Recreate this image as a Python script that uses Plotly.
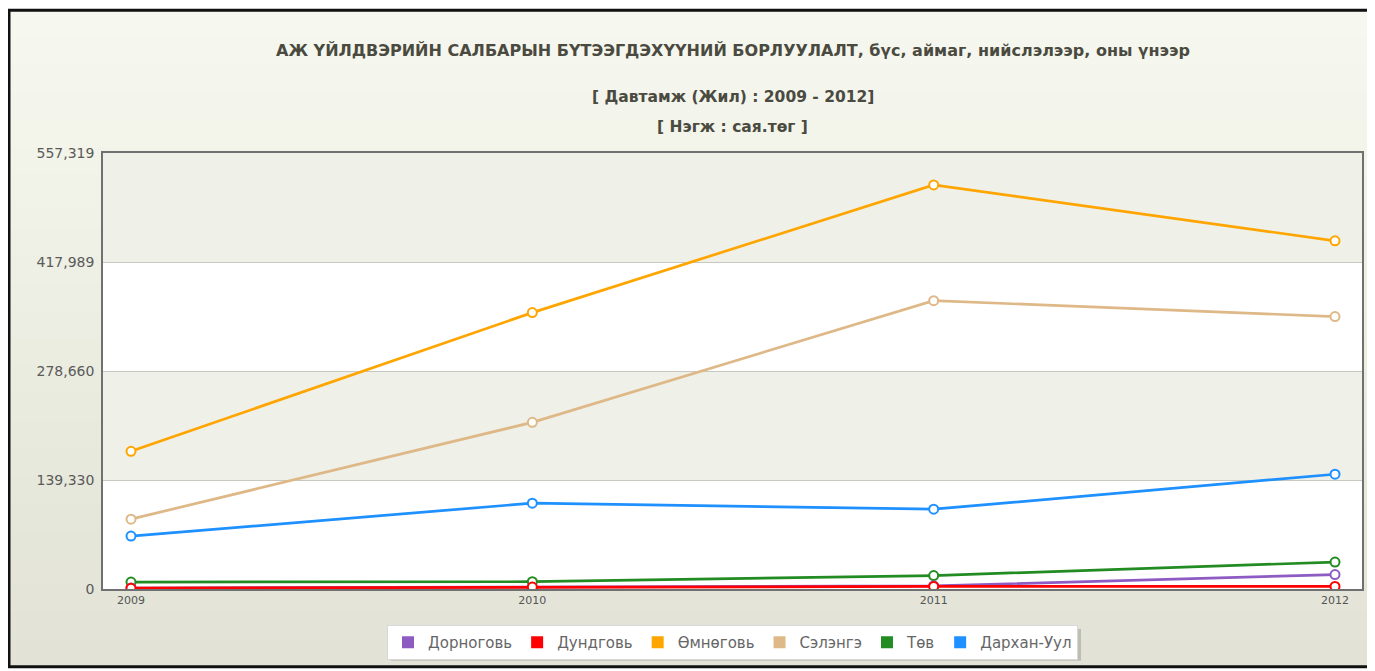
import plotly.graph_objects as go

years = [2009, 2010, 2011, 2012]
series_names = ["Дорноговь", "Дундговь", "Өмнөговь", "Сэлэнгэ", "Төв", "Дархан-Уул"]
dornogovi = [1200, 2200, 4000, 18500]
dundgovi = [1000, 2500, 3300, 3300]
omnogovi = [176000, 353300, 516500, 445100]
selenge = [89300, 213000, 368600, 348200]
tov = [8900, 9300, 17200, 34400]
darkhan_uul = [67600, 109700, 102000, 146700]
series_values = [dornogovi, dundgovi, omnogovi, selenge, tov, darkhan_uul]
colors = ["#8e5bc3", "#ff0000", "#ffa500", "#deb887", "#228b22", "#1e90ff"]
y_ticks = [0, 139330, 278660, 417989, 557319]
title = "АЖ ҮЙЛДВЭРИЙН САЛБАРЫН БҮТЭЭГДЭХҮҮНИЙ БОРЛУУЛАЛТ, бүс, аймаг, нийслэлээр, оны үнээр"
subtitle1 = "[ Давтамж (Жил) : 2009 - 2012]"
subtitle2 = "[ Нэгж : сая.төг ]"

# browser body margin of 8px shifts the figure; work in screen coordinates
OFF = 8
W, H = 1375 - OFF, 671 - OFF
L, T = 103 - OFF, 153 - OFF
R = W - (1362 - OFF)
B = H - (590 - OFF)
pw, ph = W - L - R, H - T - B

def px(sx):
    return (sx - OFF - L) / pw

def py(sy):
    return (H - B - (sy - OFF)) / ph

FONT = "DejaVu Sans, Verdana, sans-serif"

fig = go.Figure()

order = [2, 3, 5, 4, 0, 1]
for i in order:
    fig.add_trace(go.Scatter(
        x=years, y=series_values[i], name=series_names[i], mode="lines+markers",
        line=dict(color=colors[i], width=2.7),
        marker=dict(symbol="circle", size=9, color="white",
                    line=dict(color=colors[i], width=2)),
        showlegend=False, hoverinfo="x+y+name"))

for i in range(len(series_names)):
    fig.add_trace(go.Scatter(
        x=[None], y=[None], name=series_names[i], mode="markers",
        marker=dict(symbol="square", size=12, color=colors[i]),
        showlegend=True))

shapes = []
top_c = (0xf6, 0xf7, 0xee)
bot_c = (0xe2, 0xe3, 0xd6)
n = 24
y0p, y1p = 10, 668
for k in range(n):
    t = k / (n - 1)
    c = tuple(int(round(top_c[j] + (bot_c[j] - top_c[j]) * t)) for j in range(3))
    ya = y0p + (y1p - y0p) * k / n
    yb = y0p + (y1p - y0p) * (k + 1) / n
    shapes.append(dict(type="rect", xref="paper", yref="paper",
                       x0=px(8), x1=px(1390), y0=py(yb) - 0.002, y1=py(ya),
                       fillcolor="rgb(%d,%d,%d)" % c, line=dict(width=0), layer="below"))
shapes.append(dict(type="rect", xref="paper", yref="paper",
                   x0=px(9), x1=px(1390), y0=py(y1p), y1=py(y0p),
                   fillcolor="rgba(0,0,0,0)", line=dict(color="#111111", width=3), layer="below"))
band_cols = ["#ffffff", "#eff0e8", "#ffffff", "#eff0e8"]
for k in range(4):
    shapes.append(dict(type="rect", xref="x domain", yref="y",
                       x0=0, x1=1, y0=y_ticks[k], y1=y_ticks[k + 1],
                       fillcolor=band_cols[k], line=dict(width=0), layer="below"))
# legend drop shadow
shapes.append(dict(type="rect", xref="paper", yref="paper",
                   x0=px(391), x1=px(1081), y0=py(662), y1=py(630),
                   fillcolor="rgba(0,0,0,0.16)", line=dict(width=0), layer="above"))

annotations = [
    dict(text="<b>" + title + "</b>", x=0.5, y=py(50), xref="paper", yref="paper",
         yanchor="middle", showarrow=False,
         font=dict(size=16, color="#4a4a40", family=FONT)),
    dict(text="<b>" + subtitle1 + "</b>", x=0.5, y=py(97), xref="paper", yref="paper",
         yanchor="middle", showarrow=False,
         font=dict(size=15.5, color="#4a4a40", family=FONT)),
    dict(text="<b>" + subtitle2 + "</b>", x=0.5, y=py(127), xref="paper", yref="paper",
         yanchor="middle", showarrow=False,
         font=dict(size=15.5, color="#4a4a40", family=FONT)),
]

fig.update_layout(
    width=W, height=H,
    margin=dict(l=L, r=R, t=T, b=B, pad=0),
    paper_bgcolor="white", plot_bgcolor="rgba(0,0,0,0)",
    font=dict(family=FONT, color="#555555"),
    shapes=shapes, annotations=annotations,
    showlegend=True,
    legend=dict(orientation="h", x=0.5, xanchor="center", y=py(625), yanchor="top",
                bgcolor="white", bordercolor="#d8d8d8", borderwidth=1,
                font=dict(size=15, color="#666666", family=FONT), itemwidth=30,
                traceorder="normal"),
    xaxis=dict(range=[2009 - 28 / 401.3, 2012 + 27 / 401.3], tickmode="array",
               tickvals=years, ticktext=[str(y) for y in years],
               showgrid=False, zeroline=False, showline=True, mirror=True,
               linecolor="#707070", linewidth=1.5, ticks="",
               tickfont=dict(size=11, color="#555555", family=FONT)),
    yaxis=dict(range=[0, 557319], tickmode="array", tickvals=y_ticks,
               ticktext=[f"{v:,}" for v in y_ticks],
               showgrid=True, gridcolor="#c8c8c0", gridwidth=1, zeroline=False,
               showline=True, mirror=True, linecolor="#707070", linewidth=1.5,
               ticks="", ticklabelstandoff=4,
               tickfont=dict(size=14, color="#5a5a5a", family=FONT)),
)

fig.write_html("out.html")
